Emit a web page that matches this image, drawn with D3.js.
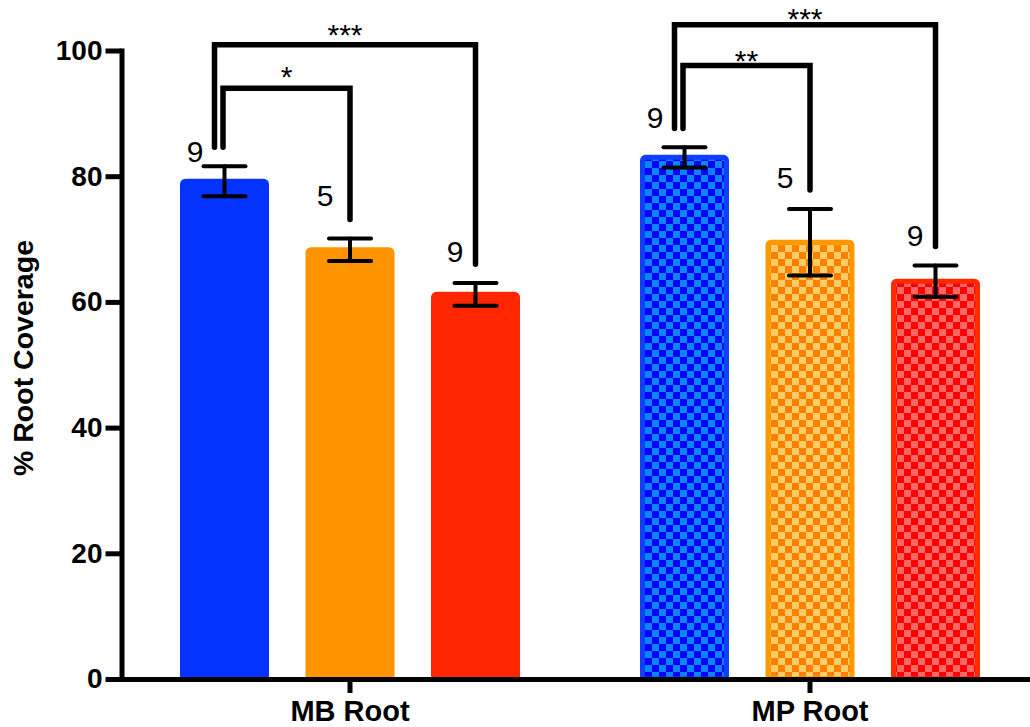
<!DOCTYPE html>
<html>
<head>
<meta charset="utf-8">
<script src="https://cdn.jsdelivr.net/npm/d3@7"></script>
<style>
  body { margin: 0; background: #fff; }
  text { font-family: Arial, "Liberation Sans", Helvetica, sans-serif; }
</style>
</head>
<body>
<svg id="chart" width="1030" height="727"></svg>
<script>
// ---- data ----
const groups = ["MB Root", "MP Root"];
const treatments = ["t1", "t2", "t3"];
const mbMeans = [79.2, 68.3, 61.2];
const mbSem   = [2.4, 1.8, 1.8];
const mbN     = [9, 5, 9];
const mpMeans = [83.0, 69.5, 63.3];
const mpSem   = [1.6, 5.3, 2.5];
const mpN     = [9, 5, 9];
const yTicks  = [0, 20, 40, 60, 80, 100];
const mbSig = [{ from: 0, to: 1, label: "*" }, { from: 0, to: 2, label: "***" }];
const mpSig = [{ from: 0, to: 1, label: "**" }, { from: 0, to: 2, label: "***" }];

// ---- layout (annotation heights in axis units, offsets in px) ----
const bracketLevels = { "MB Root": [94.0, 100.9], "MP Root": [97.6, 104.1] };
const starDrop      = { "MB Root": [0, 1.5], "MP Root": [6, 5.5] };
const nLabelLevels  = { "MB Root": [82.3, 75.3, 66.4], "MP Root": [87.7, 78.1, 68.9] };
const nLabelShift   = [-29.5, -25, -20.5];
const solidColors = ["#0433ff", "#ff9300", "#ff2600"];
const checkColors = [
  { border: "#1040ff", dark: "#0000ff", light: "#0a84ff" },
  { border: "#ff9900", dark: "#ff8000", light: "#ffcc66" },
  { border: "#ff2a00", dark: "#ff0000", light: "#ff6666" }
];

const rows = [
  { group: "MB Root", means: mbMeans, sem: mbSem, n: mbN, sig: mbSig, checked: false },
  { group: "MP Root", means: mpMeans, sem: mpSem, n: mpN, sig: mpSig, checked: true }
];

const svg = d3.select("#chart");

// checker patterns for the MP bars
const defs = svg.append("defs");
checkColors.forEach((c, i) => {
  const p = defs.append("pattern")
    .attr("id", "check" + i)
    .attr("patternUnits", "userSpaceOnUse")
    .attr("width", 14).attr("height", 14)
    .attr("x", 1).attr("y", 0);
  p.append("rect").attr("width", 14).attr("height", 14).attr("fill", c.light);
  p.append("rect").attr("width", 7).attr("height", 7).attr("fill", c.dark);
  p.append("rect").attr("x", 7).attr("y", 7).attr("width", 7).attr("height", 7).attr("fill", c.dark);
});

// ---- scales ----
const y = d3.scaleLinear().domain([0, 100]).range([679, 50.5]);
const x0 = d3.scaleBand().domain(groups).range([120, 1040]).paddingInner(0).paddingOuter(0);
const x1 = d3.scaleBand().domain(treatments).range([-167.5, 167.5]).paddingInner(0.3307).paddingOuter(0);
const center = (g, i) => x0(g) + x0.bandwidth() / 2 + x1(treatments[i]) + x1.bandwidth() / 2;

// ---- bars ----
const barG = svg.append("g");
rows.forEach(r => {
  r.means.forEach((m, i) => {
    barG.append("rect")
      .attr("x", center(r.group, i) - x1.bandwidth() / 2)
      .attr("y", y(m))
      .attr("width", x1.bandwidth())
      .attr("height", y(0) - y(m))
      .attr("rx", 3)
      .attr("fill", r.checked ? "url(#check" + i + ")" : solidColors[i])
      .attr("stroke", r.checked ? checkColors[i].border : solidColors[i])
      .attr("stroke-width", 5);
  });
});

// ---- error bars ----
const errG = svg.append("g").attr("stroke", "#000").attr("stroke-width", 4).attr("stroke-linecap", "round");
rows.forEach(r => {
  r.means.forEach((m, i) => {
    const cx = center(r.group, i);
    const hi = y(m + r.sem[i]), lo = y(m - r.sem[i]);
    errG.append("line").attr("x1", cx).attr("x2", cx).attr("y1", hi).attr("y2", lo);
    errG.append("line").attr("x1", cx - 21).attr("x2", cx + 21).attr("y1", hi).attr("y2", hi);
    errG.append("line").attr("x1", cx - 21).attr("x2", cx + 21).attr("y1", lo).attr("y2", lo);
  });
});

// ---- significance brackets ----
const sigG = svg.append("g");
rows.forEach(r => {
  r.sig.forEach((s, k) => {
    const level = bracketLevels[r.group][k];
    const xl = center(r.group, s.from) + (k === 0 ? -1.5 : -10);
    const xr = center(r.group, s.to);
    const yl = y(r.means[s.from] + r.sem[s.from] + 3);
    const yr = y(r.means[s.to] + r.sem[s.to] + 3);
    sigG.append("path")
      .attr("d", `M${xl},${yl}V${y(level)}H${xr}V${yr}`)
      .attr("fill", "none")
      .attr("stroke", "#000")
      .attr("stroke-width", 5.5)
      .attr("stroke-linecap", "round")
      .attr("stroke-linejoin", "miter");
    sigG.append("text")
      .attr("x", (xl + xr) / 2)
      .attr("y", y(level) - 1 + starDrop[r.group][k])
      .attr("text-anchor", "middle")
      .attr("font-size", 30)
      .text(s.label);
  });
});

// ---- n labels ----
const nG = svg.append("g");
rows.forEach(r => {
  r.n.forEach((n, i) => {
    nG.append("text")
      .attr("x", center(r.group, i) + nLabelShift[i])
      .attr("y", y(nLabelLevels[r.group][i]))
      .attr("text-anchor", "middle")
      .attr("font-size", 30)
      .text(n);
  });
});

// ---- axes ----
const yAxis = svg.append("g")
  .attr("transform", "translate(121.5,0)")
  .call(d3.axisLeft(y).tickValues(yTicks).tickSize(16).tickSizeOuter(0).tickPadding(3).tickFormat(d3.format("d")));
yAxis.select(".domain").attr("stroke-width", 5).attr("stroke-linecap", "square");
yAxis.selectAll(".tick line").attr("stroke-width", 5);
yAxis.selectAll(".tick text")
  .attr("font-size", 28).attr("font-weight", "bold")
  .attr("font-family", "Arial, 'Liberation Sans', sans-serif").attr("fill", "#000");

const xAxis = svg.append("g")
  .attr("transform", `translate(0,${y(0)})`)
  .call(d3.axisBottom(x0).tickSize(14).tickSizeOuter(0).tickPadding(7));
xAxis.select(".domain").attr("stroke-width", 5);
xAxis.selectAll(".tick line").attr("stroke-width", 5);
xAxis.selectAll(".tick text")
  .attr("font-size", 29).attr("font-weight", "bold")
  .attr("font-family", "Arial, 'Liberation Sans', sans-serif").attr("fill", "#000");

svg.append("text")
  .attr("transform", "rotate(-90)")
  .attr("x", -358)
  .attr("y", 33)
  .attr("text-anchor", "middle")
  .attr("font-size", 28.5)
  .attr("font-weight", "bold")
  .text("% Root Coverage");
</script>
</body>
</html>
